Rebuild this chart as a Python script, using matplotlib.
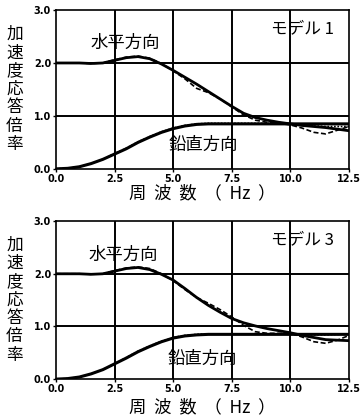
import matplotlib
matplotlib.use("Agg")
import matplotlib.pyplot as plt
import numpy as np

plt.rcParams['font.family'] = ['Noto Sans CJK JP', 'DejaVu Sans']

freq = [0.0, 0.5, 1.0, 1.5, 2.0, 2.5, 3.0, 3.5, 4.0, 4.5, 5.0, 5.5, 6.0, 6.5, 7.0,
        7.5, 8.0, 8.5, 9.0, 9.5, 10.0, 10.5, 11.0, 11.5, 12.0, 12.5]

# Model 1
m1_h_calc = [2.00, 2.00, 2.00, 1.99, 2.00, 2.05, 2.10, 2.12, 2.08, 1.98, 1.86, 1.73, 1.60,
             1.46, 1.32, 1.18, 1.05, 0.97, 0.92, 0.88, 0.85, 0.82, 0.80, 0.78, 0.75, 0.72]
m1_h_meas = [2.00, 2.00, 2.00, 1.99, 2.00, 2.06, 2.11, 2.13, 2.09, 1.99, 1.85, 1.70, 1.52,
             1.44, 1.32, 1.17, 1.02, 0.92, 0.88, 0.86, 0.83, 0.77, 0.69, 0.66, 0.73, 0.80]
m1_v_calc = [0.00, 0.01, 0.04, 0.10, 0.18, 0.28, 0.38, 0.50, 0.60, 0.69, 0.76, 0.81, 0.84,
             0.85, 0.85, 0.85, 0.85, 0.85, 0.85, 0.85, 0.85, 0.85, 0.85, 0.85, 0.85, 0.85]
m1_v_meas = [0.00, 0.01, 0.04, 0.10, 0.18, 0.29, 0.39, 0.51, 0.61, 0.70, 0.77, 0.82, 0.85,
             0.86, 0.86, 0.86, 0.86, 0.86, 0.86, 0.85, 0.84, 0.82, 0.81, 0.80, 0.80, 0.80]

# Model 3
m3_h_calc = [2.00, 2.00, 2.00, 1.99, 2.00, 2.05, 2.10, 2.12, 2.08, 1.99, 1.88, 1.72, 1.55,
             1.40, 1.27, 1.15, 1.07, 1.01, 0.96, 0.92, 0.88, 0.83, 0.79, 0.75, 0.74, 0.73]
m3_h_meas = [2.00, 2.00, 2.00, 1.99, 2.00, 2.06, 2.11, 2.13, 2.10, 2.00, 1.87, 1.70, 1.55,
             1.44, 1.32, 1.18, 1.02, 0.90, 0.87, 0.87, 0.87, 0.80, 0.71, 0.68, 0.74, 0.83]
m3_v_calc = [0.00, 0.01, 0.04, 0.10, 0.18, 0.29, 0.40, 0.52, 0.62, 0.71, 0.78, 0.82, 0.84,
             0.85, 0.85, 0.85, 0.85, 0.85, 0.85, 0.85, 0.85, 0.85, 0.85, 0.85, 0.85, 0.85]
m3_v_meas = [0.00, 0.01, 0.04, 0.10, 0.18, 0.29, 0.41, 0.53, 0.63, 0.72, 0.79, 0.83, 0.85,
             0.86, 0.86, 0.86, 0.86, 0.86, 0.86, 0.86, 0.85, 0.84, 0.84, 0.84, 0.85, 0.86]

xticks = [0.0, 2.5, 5.0, 7.5, 10.0, 12.5]
xtick_labels = ["0.0", "2.5", "5.0", "7.5", "10.0", "12.5"]
yticks = [0.0, 1.0, 2.0, 3.0]
ytick_labels = ["0.0", "1.0", "2.0", "3.0"]

ylabel = "加速度応答倍率"
xlabel = "周  波  数  （  Hz  ）"
label_h = "水平方向"
label_v = "鉛直方向"
models = ["モデル 1", "モデル 3"]

fig = plt.figure(figsize=(3.61, 4.18), dpi=100)

panels = [
    (fig.add_axes([0.155, 0.596, 0.812, 0.380]), m1_h_calc, m1_h_meas, m1_v_calc, m1_v_meas,
     models[0], (2.95, 2.38), (6.3, 0.45), 0.538),
    (fig.add_axes([0.155, 0.093, 0.812, 0.378]), m3_h_calc, m3_h_meas, m3_v_calc, m3_v_meas,
     models[1], (2.85, 2.35), (6.25, 0.38), 0.026),
]

for ax, hc, hm, vc, vm, mname, hpos, vpos, xly in panels:
    ax.set_xlim(0, 12.5)
    ax.set_ylim(0, 3.0)
    for xv in [2.5, 5.0, 7.5, 10.0]:
        ax.axvline(xv, color='black', lw=1.4, zorder=1)
    for yv in [1.0, 2.0]:
        ax.axhline(yv, color='black', lw=1.4, zorder=1)
    ax.plot(freq, hc, color='black', lw=2.0, zorder=3)
    ax.plot(freq, hm, color='black', lw=1.2, ls=(0, (3, 1.5)), zorder=3)
    ax.plot(freq, vc, color='black', lw=2.2, zorder=3)
    ax.plot(freq, vm, color='black', lw=1.2, ls=(0, (1, 1)), zorder=3)
    ax.set_xticks(xticks)
    ax.set_xticklabels(xtick_labels, fontsize=7, fontweight='bold', family='DejaVu Sans')
    ax.set_yticks(yticks)
    ax.set_yticklabels(ytick_labels, fontsize=7, fontweight='bold', family='DejaVu Sans')
    ax.tick_params(length=2, width=1, pad=1.5)
    for s in ax.spines.values():
        s.set_linewidth(1.2)
    ax.text(hpos[0], hpos[1], label_h, fontsize=12.5, ha='center', va='center')
    ax.text(vpos[0], vpos[1], label_v, fontsize=12.5, ha='center', va='center')
    ax.text(10.5, 2.65, mname, fontsize=12, ha='center', va='center')
    bb = ax.get_position()
    fig.text(0.04, bb.y0 + bb.height * 0.5, "\n".join(ylabel), fontsize=12,
             ha='center', va='center', linespacing=1.1)
    fig.text(0.56, xly, xlabel, fontsize=12.5, ha='center', va='center')

fig.savefig("out.png", dpi=100)
